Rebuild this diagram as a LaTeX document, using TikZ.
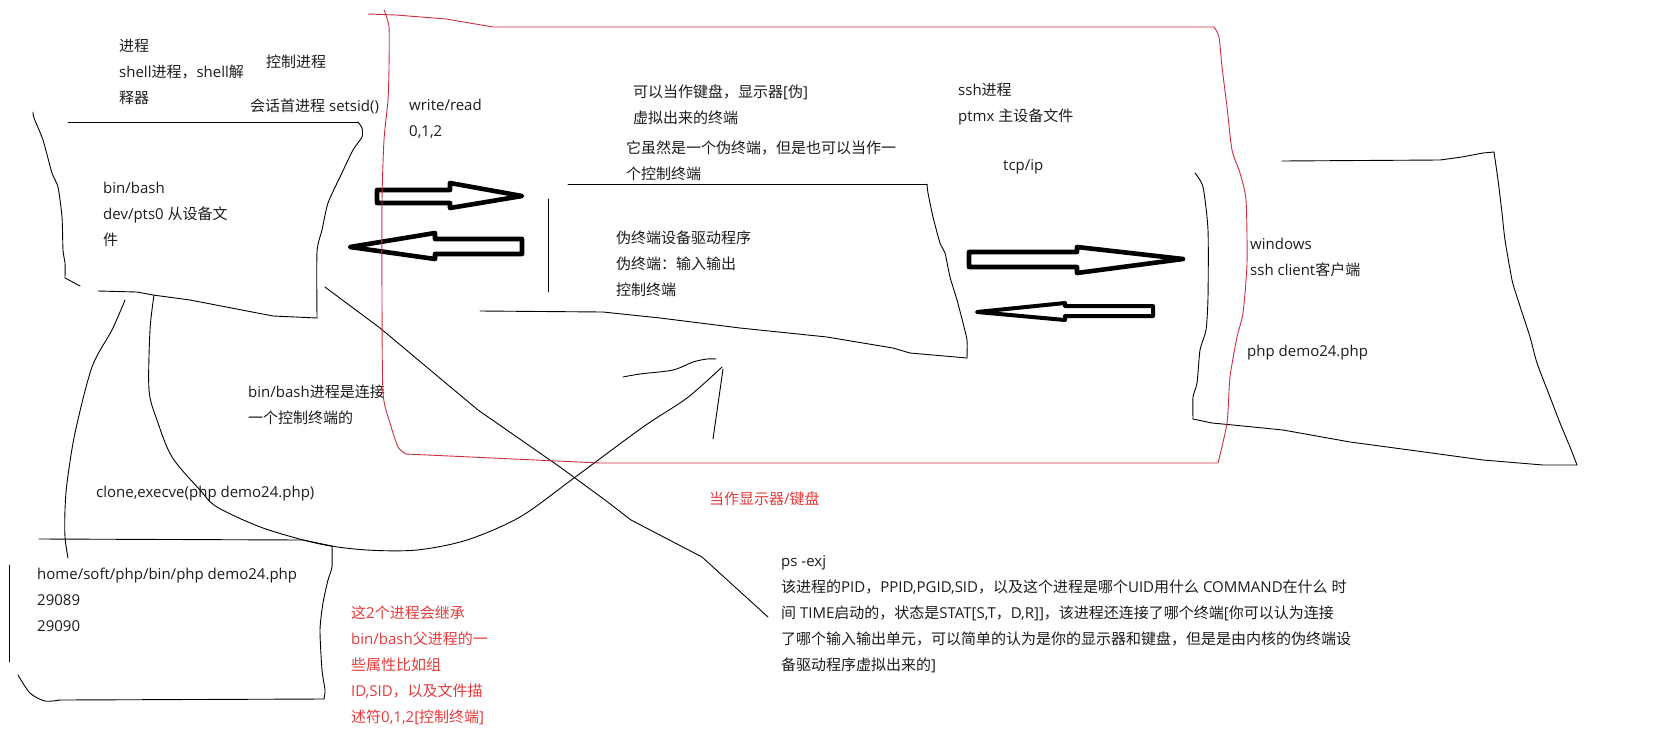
\documentclass[tikz,border=0pt]{standalone}
\usepackage{fontspec}
\setmainfont{Open Sans}
\newfontfamily\cjkfont{Noto Sans CJK SC}
% switch to the CJK family for runs of ideographs
\XeTeXinterchartokenstate=1
\chardef\cjkclass=8
\newcount\cjkcount
\cjkcount="4E00
\loop\XeTeXcharclass\cjkcount=\cjkclass\advance\cjkcount by 1\ifnum\cjkcount<"A000 \repeat
\XeTeXcharclass"FF0C=\cjkclass
\XeTeXcharclass"FF1A=\cjkclass
\XeTeXinterchartoks 0 \cjkclass={\begingroup\cjkfont}
\XeTeXinterchartoks 4095 \cjkclass={\begingroup\cjkfont}
\XeTeXinterchartoks \cjkclass 0={\endgroup}
\XeTeXinterchartoks \cjkclass 4095={\endgroup}
\usepackage{xcolor}
\usepackage{tikz}
\definecolor{boxred}{RGB}{205,45,65}
\definecolor{notered}{RGB}{232,58,58}
\definecolor{inkgray}{RGB}{28,28,28}

\begin{document}
\begin{tikzpicture}[
  x=1pt, y=-1pt,
  font=\fontsize{15}{26}\selectfont,
  sketch/.style={line width=0.9pt, line join=round, line cap=round},
  redline/.style={line width=0.9pt, draw=boxred, line join=round},
  fatarrow/.style={line width=4.6pt, line join=round},
  lbl/.style={anchor=north west, inner sep=0pt, align=left, text=inkgray},
  note/.style={lbl, text=notered},
]
\useasboundingbox (0,0) rectangle (1664,731);

\node[lbl] (proc) at (119,39) {进程\\shell进程，shell解\\释器};
\node[lbl] (ctrl) at (266,55) {控制进程};
\node[lbl] (sess) at (250,99) {会话首进程 setsid()};
\node[lbl] (wr) at (409,99) {write/read\\0,1,2};
\node[lbl] (kbd) at (633,85) {可以当作键盘，显示器[伪]\\虚拟出来的终端};
\node[lbl] (ctty) at (626,141) {它虽然是一个伪终端，但是也可以当作一\\个控制终端};
\node[lbl] (ssh) at (958,83) {ssh进程\\ptmx 主设备文件};
\node[lbl] (tcp) at (1003,159) {tcp/ip};
\node[lbl] (bash) at (103,182) {bin/bash\\dev/pts0 从设备文\\件};
\node[lbl] (drv) at (616,231) {伪终端设备驱动程序\\伪终端：输入输出\\控制终端};
\node[lbl] (win) at (1250,238) {windows\\ssh client客户端};
\node[lbl] (runphp) at (1247,345) {php demo24.php};
\node[lbl] (link) at (248,385) {bin/bash进程是连接\\一个控制终端的};
\node[lbl] (clone) at (96,486) {clone,execve(php demo24.php)};
\node[lbl] (child) at (37,568) {home/soft/php/bin/php demo24.php\\29089\\29090};
\node[note] (inherit) at (351,606) {这2个进程会继承\\bin/bash父进程的一\\些属性比如组\\ID,SID，以及文件描\\述符0,1,2[控制终端]};
\node[note] (disp) at (709,492) {当作显示器/键盘};
\node[lbl] (psexj) at (781,555) {ps -exj\\该进程的PID，PPID,PGID,SID，以及这个进程是哪个UID用什么 COMMAND在什么 时\\间 TIME启动的，状态是STAT[S,T，D,R]]，该进程还连接了哪个终端[你可以认为连接\\了哪个输入输出单元，可以简单的认为是你的显示器和键盘，但是是由内核的伪终端设\\备驱动程序虚拟出来的]};

% bin/bash box
\draw[sketch] (68,122) -- (358,122);
\draw[sketch] plot[smooth,tension=.4] coordinates {(358,122) (362,128) (362,137) (353,150) (340,177) (328,203) (322,230) (317,252) (317,318)};
\draw[sketch] (317,318) -- (273,316) -- (190,300) -- (153,295) -- (137,292) -- (98,291);
\draw[sketch] plot[smooth,tension=.4] coordinates {(33,112) (34,118) (43,140) (52,173) (58,187) (62,217) (63,250) (65,263) (65,278)} -- (80,286);

% clone / execve
\draw[sketch] plot[smooth,tension=.5] coordinates {(125,300) (112,330) (92,367) (75,433) (67,483) (65,510) (65,537) (68,558)};
\draw[sketch] plot[smooth,tension=.5] coordinates {(154,295) (150,330) (149,390) (157,420) (172,457) (200,490) (217,507) (263,528) (320,544) (367,550) (417,550) (467,540) (520,517) (574,478) (643,427) (687,398) (722,367)};
\draw[sketch] (723,369) -- (713,439);
\draw[sketch] plot[smooth,tension=.5] coordinates {(623,377) (640,374) (673,370) (693,362) (707,359) (716,359)};
\draw[sketch] (325,287) -- (333,293) -- (380,328) -- (478,410) -- (560,467) -- (605,500) -- (631,520) -- (702,557) -- (768,617);

% php child box
\draw[sketch] (39,539) -- (303,540) -- (332,546);
\draw[sketch] plot[smooth,tension=.4] coordinates {(332,546) (332,567) (328,580) (323,603) (320,630) (322,670) (325,690) (324,699)};
\draw[sketch] (324,699) -- (60,700);
\draw[sketch] plot[smooth,tension=.5] coordinates {(60,700) (45,701) (30,693) (18,675)};
\draw[sketch] (9,565) -- (9,662);

% pseudo terminal driver box
\draw[sketch] (568,184) -- (927,184);
\draw[sketch] plot[smooth,tension=.4] coordinates {(927,184) (928,193) (933,217) (940,243) (945,253) (950,277) (957,300) (963,323) (967,340) (967,358)};
\draw[sketch] (967,358) -- (910,353) -- (893,348) -- (827,337) -- (740,328) -- (660,318) -- (603,312) -- (480,311);
\draw[sketch] (548,199) -- (548,292);

% windows box
\draw[sketch] (1282,161) -- (1440,160) -- (1462,157) -- (1483,153) -- (1494,152);
\draw[sketch] plot[smooth,tension=.4] coordinates {(1494,152) (1498,180) (1502,213) (1505,240) (1512,280) (1517,297) (1530,337) (1537,363) (1550,397) (1560,423) (1570,447) (1577,465)};
\draw[sketch] (1577,465) -- (1543,465) -- (1483,460) -- (1417,451) -- (1350,442) -- (1283,430) -- (1233,425) -- (1212,423) -- (1193,419);
\draw[sketch] plot[smooth,tension=.4] coordinates {(1193,419) (1193,397) (1197,383) (1200,350) (1206,330) (1208,297) (1208,230) (1203,187) (1195,173)};

% fat arrows
\draw[fatarrow] (377,190) -- (450,190) -- (450,183) -- (522,196) -- (450,208) -- (450,203) -- (377,203) -- cycle;
\draw[fatarrow] (350,247) -- (435,233) -- (435,239) -- (522,239) -- (522,254) -- (435,254) -- (435,259) -- cycle;
\draw[fatarrow] (969,252) -- (1077,252) -- (1077,247) -- (1183,259) -- (1077,273) -- (1077,267) -- (969,267) -- cycle;
\draw[fatarrow, line width=4pt] (977,312) -- (1065,303) -- (1065,306) -- (1153,306) -- (1153,316) -- (1065,316) -- (1065,320) -- cycle;

% kernel (red) outline
\draw[redline] (368,14) -- (396,15) -- (446,19) -- (493,27) -- (1214,27);
\draw[redline] plot[smooth,tension=.4] coordinates {(1214,27) (1219,37) (1222,67) (1227,107) (1232,150) (1240,173) (1246,200) (1247,263) (1243,313) (1237,337) (1230,377) (1227,423) (1218,463)};
\draw[redline] (1218,463) -- (600,463) -- (406,454);
\draw[redline] plot[smooth,tension=.4] coordinates {(406,454) (398,447) (390,423) (383,393) (382,300) (382,200) (384,140) (388,100) (389,67) (389,27) (384,10)};
\end{tikzpicture}
\end{document}
